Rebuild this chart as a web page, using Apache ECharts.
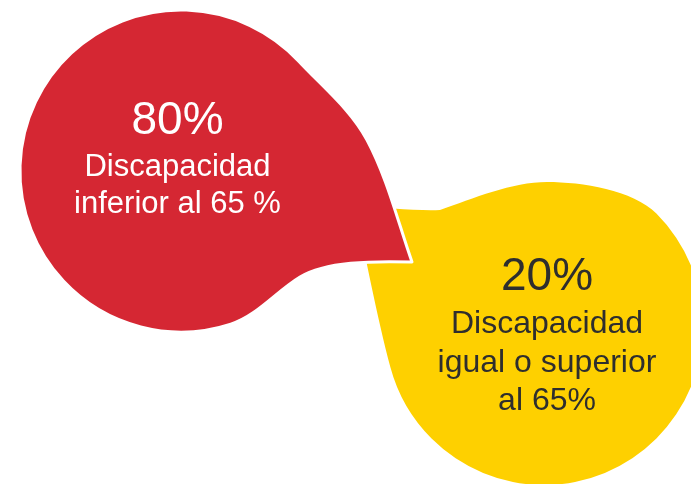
<!DOCTYPE html>
<html>
<head>
<meta charset="utf-8">
<script src="https://cdn.jsdelivr.net/npm/echarts@6/dist/echarts.min.js"></script>
<style>
  html, body { margin: 0; padding: 0; background: #fff; }
  #main { width: 691px; height: 484px; }
</style>
</head>
<body>
<div id="main"></div>
<script>
// data
const categories = ['inferior', 'superior'];
const percentValues = [80, 20];
const labels = ['Discapacidad\ninferior al 65 %', 'Discapacidad\nigual o superior\nal 65%'];

// drop outlines as path commands, offsets in px from the drop centre
const redOutline = [
  ['M', 231, 91],
  ['C', 216.8, 50.6, 206.2, 6.8, 186, -31],
  ['C', 169.5, -61.8, 141.6, -84.2, 117.7, -109.8],
  ['A', 161, 1, 0, 49.8, 153.1],
  ['C', 76.4, 144.4, 95.1, 120.5, 119, 106],
  ['C', 144.7, 90.5, 191, 89.8, 231, 91]
];
const yellowOutline = [
  ['M', -189, -121],
  ['C', -164, -118, -124, -115, -104, -116],
  ['C', -71, -127.5, -32, -144, 3, -144],
  ['C', 38, -144, 89, -136, 112.4, -112.4],
  ['A', 159, 1, 1, -153.6, 41.2],
  ['C', -166.5, -7.1, -181, -81, -189, -121]
];

const looks = [
  { outline: redOutline, fill: '#d52733', textColor: '#ffffff', z: 10, border: 3,
    textDx: -3.5, pctDy: -50, lblDy: -22, lineHeight: 37, lblSize: 31 },
  { outline: yellowOutline, fill: '#fed000', textColor: '#2e2e2e', z: 5, border: 0,
    textDx: 3, pctDy: -49, lblDy: -21, lineHeight: 38.5, lblSize: 32 }
];
const FONT = '"Liberation Sans", Arial, sans-serif';

function dropPath(cmds, cx, cy) {
  let d = '';
  cmds.forEach(c => {
    if (c[0] === 'A') {
      d += ' A' + c[1] + ' ' + c[1] + ' 0 ' + c[2] + ' ' + c[3] + ' ' + (cx + c[4]) + ' ' + (cy + c[5]);
    } else {
      d += ' ' + c[0];
      for (let k = 1; k < c.length; k += 2) d += ' ' + (cx + c[k]) + ' ' + (cy + c[k + 1]);
    }
  });
  return d + ' Z';
}

const chart = echarts.init(document.getElementById('main'));
chart.setOption({
  animation: false,
  grid: { left: 181, right: 147, top: 119.33, bottom: 106.33 },
  xAxis: { type: 'category', data: categories, boundaryGap: false, show: false },
  yAxis: { type: 'value', min: 0, max: 100, show: false },
  series: [{
    type: 'custom',
    silent: true,
    data: percentValues.map((v, i) => [categories[i], v]),
    renderItem: function (params, api) {
      const i = params.dataIndex;
      const lk = looks[i];
      const c = api.coord([api.value(0), api.value(1)]);
      return {
        type: 'group',
        children: [
          {
            type: 'path',
            z2: lk.z,
            shape: { pathData: dropPath(lk.outline, c[0], c[1]) },
            style: { fill: lk.fill, stroke: '#ffffff', lineWidth: lk.border, lineJoin: 'round' }
          },
          {
            type: 'text',
            z2: lk.z + 20,
            x: c[0] + lk.textDx,
            y: c[1] + lk.pctDy,
            style: {
              text: api.value(1) + '%',
              fill: lk.textColor,
              font: '46px ' + FONT,
              align: 'center',
              verticalAlign: 'middle'
            }
          },
          {
            type: 'text',
            z2: lk.z + 20,
            x: c[0] + lk.textDx,
            y: c[1] + lk.lblDy,
            style: {
              text: labels[i],
              fill: lk.textColor,
              font: lk.lblSize + 'px ' + FONT,
              lineHeight: lk.lineHeight,
              align: 'center',
              verticalAlign: 'top'
            }
          }
        ]
      };
    }
  }]
});
</script>
</body>
</html>
